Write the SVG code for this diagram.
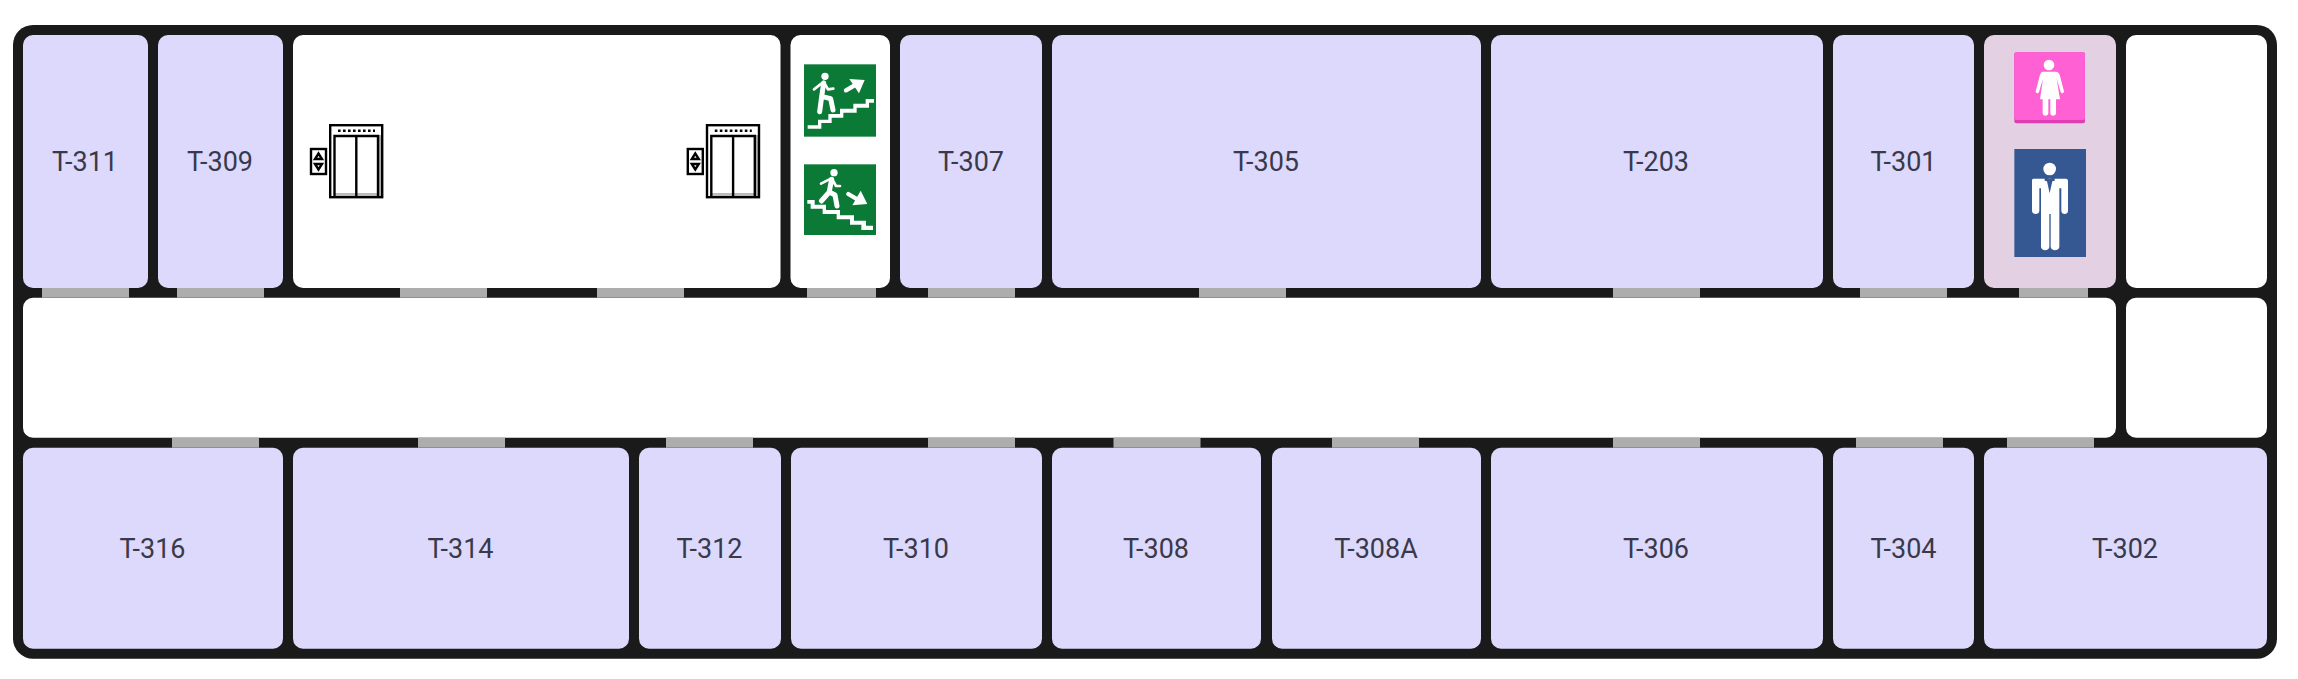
<svg xmlns="http://www.w3.org/2000/svg" width="2298" height="679" viewBox="0 0 2298 679">
<style>
.room{fill:#dcd9fd}
.blank{fill:#fff}
.wc{fill:#e3d0e3}
.door{fill:#adadad}
.lbl{font-family:Roboto,"Liberation Sans",sans-serif;font-size:27px;fill:#3a394a;text-anchor:middle}
.ln{fill:none;stroke:#000;stroke-width:2.400}
.w{fill:#fff}
.ws{fill:none;stroke:#fff;stroke-linecap:round;stroke-linejoin:round}
</style>
<defs>
<g id="lift">
<rect class="ln" x="311" y="149" width="15" height="25"/>
<path d="M318.500 153.500l-3.500 5.500h7zM318.500 169.500l-3.500-5.500h7z" fill="#fff" stroke="#000" stroke-width="2.400"/>
<rect x="378" y="135" width="3.500" height="62" fill="#aaa"/>
<rect x="334" y="193" width="44" height="3" fill="#bbb"/>
<rect class="ln" x="330.200" y="125.200" width="52" height="72"/>
<path class="ln" d="M334.500 197V136H378V197M356.300 136V197"/>
<path d="M338 130.700H375" stroke="#000" stroke-width="2.600" stroke-dasharray="2.600 2.400" fill="none"/>
</g>
</defs>
<rect id="walls" x="13" y="25" width="2264" height="633.700" rx="20" fill="#1a1a1a"/>
<g id="T-311"><rect class="room" x="23" y="35" width="125" height="253" rx="10"/><text class="lbl" x="85" y="171">T-311</text></g>
<g id="T-309"><rect class="room" x="158" y="35" width="125" height="253" rx="10"/><text class="lbl" x="220" y="171">T-309</text></g>
<g id="lobby"><rect class="blank" x="293" y="35" width="487.500" height="253" rx="10"/><use href="#lift"/><use href="#lift" x="376.800"/></g>
<g id="stairs"><rect class="blank" x="790.500" y="35" width="99.500" height="253" rx="10"/>
<g transform="translate(790 50) scale(.33333)">
<rect x="42" y="43" width="216" height="217" fill="#0b7a36"/>
<path class="w" d="M53 226H84V209H115V192H150V176H190V161H227V147H252V158H237V173H200V188H160V203H125V219H94V236H53Z"/>
<circle class="w" cx="105" cy="79" r="11"/>
<path class="ws" stroke-width="15" d="M101 99L95 140M95 140L89 185M97 140L122 146L129 180"/>
<path class="ws" stroke-width="8" d="M100 96L72 118M102 97L114 118L130 116"/>
<path class="ws" stroke-width="13" stroke-linecap="butt" d="M168 121L208 98"/>
<path class="w" d="M178 87L224 90L207 130Z"/>
<rect x="42" y="343" width="216" height="212" fill="#0b7a36"/>
<path class="w" d="M52 450H74V464H108V480H150V496H192V512H228V527H249V540H214V524H180V508H140V492H98V476H62V461H52Z"/>
<circle class="w" cx="132" cy="368" r="11"/>
<path class="ws" stroke-width="15" d="M125 388L118 424M118 426L94 453M118 426L135 435L141 468"/>
<path class="ws" stroke-width="8" d="M124 385L93 401M128 390L138 408L150 408"/>
<path class="ws" stroke-width="13" stroke-linecap="butt" d="M175 432L212 454"/>
<path class="w" d="M187 466L232 462L212 422Z"/>
</g></g>
<g id="T-307"><rect class="room" x="900" y="35" width="142" height="253" rx="10"/><text class="lbl" x="971" y="171">T-307</text></g>
<g id="T-305"><rect class="room" x="1052" y="35" width="429" height="253" rx="10"/><text class="lbl" x="1266" y="171">T-305</text></g>
<g id="T-203"><rect class="room" x="1491" y="35" width="332" height="253" rx="10"/><text class="lbl" x="1656" y="171">T-203</text></g>
<g id="T-301"><rect class="room" x="1833" y="35" width="141" height="253" rx="10"/><text class="lbl" x="1903.500" y="171">T-301</text></g>
<g id="wc"><rect class="wc" x="1984" y="35" width="132" height="253" rx="10"/>
<g transform="translate(1980 20) scale(.33333)">
<rect x="103" y="97" width="212" height="213" rx="6" fill="#e03cb4"/>
<path d="M103 103a6 6 0 0 1 6-6H309a6 6 0 0 1 6 6V294a6 6 0 0 1-6 6H109a6 6 0 0 1-6-6Z" fill="#ff60d4"/>
<circle class="w" cx="207" cy="135" r="16"/>
<path class="w" d="M188 155H227C235 155 238 160 240 168L252 214C253 220 244 222 242 216L230 176L240 238H228V280C228 290 211 290 211 280V238H205V280C205 290 188 290 188 280V238H180L189 176L177 216C175 222 166 220 167 214L179 168C181 160 184 155 188 155Z"/>
<rect x="103" y="387" width="215" height="324" fill="#355892"/>
<circle class="w" cx="209" cy="447" r="19"/>
<path class="w" d="M160 476H258C262 476 264 479 264 483V572C264 585 244 585 244 572V505H238V680C238 694 212 694 212 680V582H208V680C208 694 183 694 183 680V505H178V572C178 585 156 585 156 572V483C156 479 157 476 160 476Z"/>
<path fill="#355892" d="M194 470L209 477L224 470V482L217 484L209 520L201 484L194 482Z"/>
</g></g>
<g id="spare-top"><rect class="blank" x="2126" y="35" width="141" height="253" rx="10"/></g>
<g id="corridor"><rect class="blank" x="23" y="297.700" width="2093" height="140" rx="10"/></g>
<g id="spare-mid"><rect class="blank" x="2126" y="297.700" width="141" height="140" rx="10"/></g>
<g id="T-316"><rect class="room" x="23" y="447.700" width="260" height="201" rx="10"/><text class="lbl" x="152.500" y="558">T-316</text></g>
<g id="T-314"><rect class="room" x="293" y="447.700" width="336" height="201" rx="10"/><text class="lbl" x="460.500" y="558">T-314</text></g>
<g id="T-312"><rect class="room" x="639" y="447.700" width="142" height="201" rx="10"/><text class="lbl" x="709.500" y="558">T-312</text></g>
<g id="T-310"><rect class="room" x="791" y="447.700" width="251" height="201" rx="10"/><text class="lbl" x="916" y="558">T-310</text></g>
<g id="T-308"><rect class="room" x="1052" y="447.700" width="209" height="201" rx="10"/><text class="lbl" x="1156" y="558">T-308</text></g>
<g id="T-308A"><rect class="room" x="1272" y="447.700" width="209" height="201" rx="10"/><text class="lbl" x="1376" y="558">T-308A</text></g>
<g id="T-306"><rect class="room" x="1491" y="447.700" width="332" height="201" rx="10"/><text class="lbl" x="1656" y="558">T-306</text></g>
<g id="T-304"><rect class="room" x="1833" y="447.700" width="141" height="201" rx="10"/><text class="lbl" x="1903.500" y="558">T-304</text></g>
<g id="T-302"><rect class="room" x="1984" y="447.700" width="283" height="201" rx="10"/><text class="lbl" x="2125" y="558">T-302</text></g>
<g id="doors" class="door">
<rect x="42" y="288" width="87" height="9.700"/>
<rect x="177" y="288" width="87" height="9.700"/>
<rect x="400" y="288" width="87" height="9.700"/>
<rect x="597" y="288" width="87" height="9.700"/>
<rect x="807" y="288" width="69" height="9.700"/>
<rect x="928" y="288" width="87" height="9.700"/>
<rect x="1199" y="288" width="87" height="9.700"/>
<rect x="1613" y="288" width="87" height="9.700"/>
<rect x="1860" y="288" width="87" height="9.700"/>
<rect x="2019" y="288" width="69" height="9.700"/>
<rect x="172" y="437.700" width="87" height="10"/>
<rect x="418" y="437.700" width="87" height="10"/>
<rect x="666" y="437.700" width="87" height="10"/>
<rect x="928" y="437.700" width="87" height="10"/>
<rect x="1113.500" y="437.700" width="87" height="10"/>
<rect x="1332" y="437.700" width="87" height="10"/>
<rect x="1613" y="437.700" width="87" height="10"/>
<rect x="1856" y="437.700" width="87" height="10"/>
<rect x="2007" y="437.700" width="87" height="10"/>
</g>
</svg>
